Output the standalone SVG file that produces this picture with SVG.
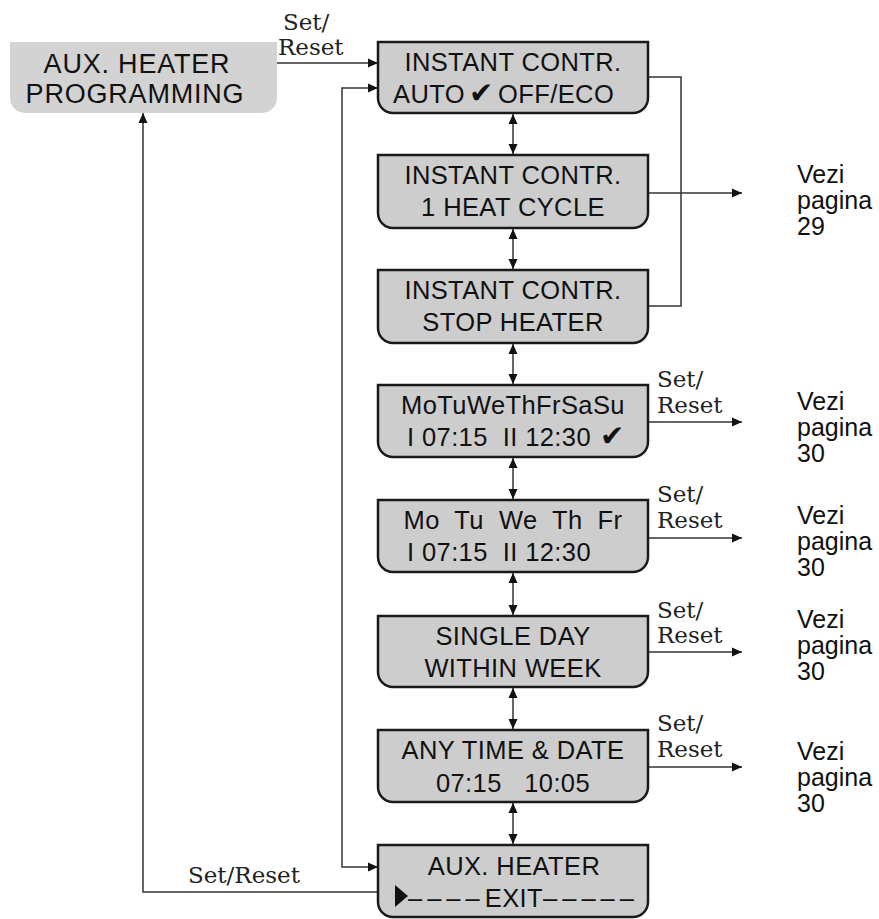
<svg xmlns="http://www.w3.org/2000/svg" width="879" height="919" viewBox="0 0 879 919">
<style>
.box{fill:#cdcdcd;stroke:#1a1a1a;stroke-width:2.5}
.lbox{fill:#d3d3d3;stroke:none}
.t{font-family:"Liberation Sans",Arial,sans-serif;font-size:25.5px;letter-spacing:0.4px;fill:#111;text-anchor:middle}
.ts{font-family:"Liberation Sans",Arial,sans-serif;font-size:25.5px;letter-spacing:0.4px;fill:#111}
.lt{font-family:"Liberation Sans",Arial,sans-serif;font-size:27px;letter-spacing:0.8px;fill:#111;text-anchor:middle}
.v{font-family:"Liberation Sans",Arial,sans-serif;font-size:25px;fill:#111}
.s{font-family:"DejaVu Serif","Liberation Serif",serif;font-size:23px;fill:#222}
.c{fill:none;stroke:#333;stroke-width:1.5}
.chk{font-family:"DejaVu Sans",sans-serif;font-size:29px}
</style>
<defs>
<marker id="ah" markerUnits="userSpaceOnUse" markerWidth="10" markerHeight="10" viewBox="0 0 10 10" refX="10" refY="5" orient="auto-start-reverse">
<path d="M0,0.5 L10,5 L0,9.5 z" fill="#111"/>
</marker>
</defs>

<g id="connectors">
<path class="c" d="M277,63 H378" marker-end="url(#ah)"/>
<path class="c" d="M378,88 H342 V867 H378" marker-start="url(#ah)" marker-end="url(#ah)"/>
<path class="c" d="M378,892 H143 V113" marker-end="url(#ah)"/>
<path class="c" d="M648,77 H681 V306 H648"/>
<path class="c" d="M648,193 H742" marker-end="url(#ah)"/>
<path class="c" d="M648,422 H742" marker-end="url(#ah)"/>
<path class="c" d="M648,538 H742" marker-end="url(#ah)"/>
<path class="c" d="M648,652 H742" marker-end="url(#ah)"/>
<path class="c" d="M648,767 H742" marker-end="url(#ah)"/>
<path class="c" d="M513,114 V154" marker-start="url(#ah)" marker-end="url(#ah)"/>
<path class="c" d="M513,229 V269" marker-start="url(#ah)" marker-end="url(#ah)"/>
<path class="c" d="M513,344 V384" marker-start="url(#ah)" marker-end="url(#ah)"/>
<path class="c" d="M513,458 V499" marker-start="url(#ah)" marker-end="url(#ah)"/>
<path class="c" d="M513,573 V615" marker-start="url(#ah)" marker-end="url(#ah)"/>
<path class="c" d="M513,688 V729" marker-start="url(#ah)" marker-end="url(#ah)"/>
<path class="c" d="M513,803 V844" marker-start="url(#ah)" marker-end="url(#ah)"/>
<text class="s" x="283" y="30">Set/</text>
<text class="s" x="278" y="55">Reset</text>
<text class="s" x="188" y="883">Set/Reset</text>
<text class="s" x="657" y="387">Set/</text>
<text class="s" x="657" y="413">Reset</text>
<text class="s" x="657" y="502">Set/</text>
<text class="s" x="657" y="528">Reset</text>
<text class="s" x="657" y="618">Set/</text>
<text class="s" x="657" y="643">Reset</text>
<text class="s" x="657" y="731">Set/</text>
<text class="s" x="657" y="757">Reset</text>
</g>

<g id="node-programming">
<path class="lbox" d="M10,42 H277 V98 A15,15 0 0 1 262,113 H25 A15,15 0 0 1 10,98 Z"/>
<text class="lt" x="137" y="73">AUX. HEATER</text>
<text class="lt" x="135" y="103">PROGRAMMING</text>
</g>

<g id="node-auto">
<path class="box" d="M378,42 H648 V98 A15,15 0 0 1 633,113 H393 A15,15 0 0 1 378,98 Z"/>
<text class="t" x="513" y="71">INSTANT CONTR.</text>
<text class="ts" x="393" y="103">AUTO<tspan class="chk" x="469">✔</tspan><tspan x="498">OFF/ECO</tspan></text>
</g>

<g id="node-heatcycle">
<path class="box" d="M378,155 H648 V213 A15,15 0 0 1 633,228 H393 A15,15 0 0 1 378,213 Z"/>
<text class="t" x="513" y="184">INSTANT CONTR.</text>
<text class="t" x="513" y="216">1 HEAT CYCLE</text>
</g>

<g id="node-stop">
<path class="box" d="M378,270 H648 V328 A15,15 0 0 1 633,343 H393 A15,15 0 0 1 378,328 Z"/>
<text class="t" x="513" y="299">INSTANT CONTR.</text>
<text class="t" x="513" y="331">STOP HEATER</text>
</g>

<g id="node-week">
<path class="box" d="M378,385 H648 V442 A15,15 0 0 1 633,457 H393 A15,15 0 0 1 378,442 Z"/>
<text class="t" x="513" y="414">MoTuWeThFrSaSu</text>
<text class="ts" x="407" y="446" xml:space="preserve">I 07:15  II 12:30<tspan class="chk" x="600">✔</tspan></text>
</g>

<g id="node-workdays">
<path class="box" d="M378,500 H648 V557 A15,15 0 0 1 633,572 H393 A15,15 0 0 1 378,557 Z"/>
<text class="t" x="513" y="529" xml:space="preserve">Mo  Tu  We  Th  Fr</text>
<text class="ts" x="407" y="561" xml:space="preserve">I 07:15  II 12:30</text>
</g>

<g id="node-singleday">
<path class="box" d="M378,616 H648 V672 A15,15 0 0 1 633,687 H393 A15,15 0 0 1 378,672 Z"/>
<text class="t" x="513" y="645">SINGLE DAY</text>
<text class="t" x="513" y="677">WITHIN WEEK</text>
</g>

<g id="node-anytime">
<path class="box" d="M378,730 H648 V787 A15,15 0 0 1 633,802 H393 A15,15 0 0 1 378,787 Z"/>
<text class="t" x="513" y="759">ANY TIME &amp; DATE</text>
<text class="t" x="513" y="792" xml:space="preserve">07:15   10:05</text>
</g>

<g id="node-exit">
<path class="box" d="M378,845 H648 V902 A15,15 0 0 1 633,917 H393 A15,15 0 0 1 378,902 Z"/>
<text class="t" x="514" y="875">AUX. HEATER</text>
<polygon points="395,885 408,896 395,907" fill="#111"/>
<text class="ts" x="408" y="907"><tspan letter-spacing="5">––––</tspan>EXIT<tspan letter-spacing="5">–––––</tspan></text>
</g>

<g id="refs">
<text class="v" x="797" y="183">Vezi</text>
<text class="v" x="797" y="209">pagina</text>
<text class="v" x="797" y="235">29</text>
<text class="v" x="797" y="410">Vezi</text>
<text class="v" x="797" y="436">pagina</text>
<text class="v" x="797" y="462">30</text>
<text class="v" x="797" y="524">Vezi</text>
<text class="v" x="797" y="550">pagina</text>
<text class="v" x="797" y="576">30</text>
<text class="v" x="797" y="628">Vezi</text>
<text class="v" x="797" y="654">pagina</text>
<text class="v" x="797" y="680">30</text>
<text class="v" x="797" y="760">Vezi</text>
<text class="v" x="797" y="786">pagina</text>
<text class="v" x="797" y="812">30</text>
</g>
</svg>
